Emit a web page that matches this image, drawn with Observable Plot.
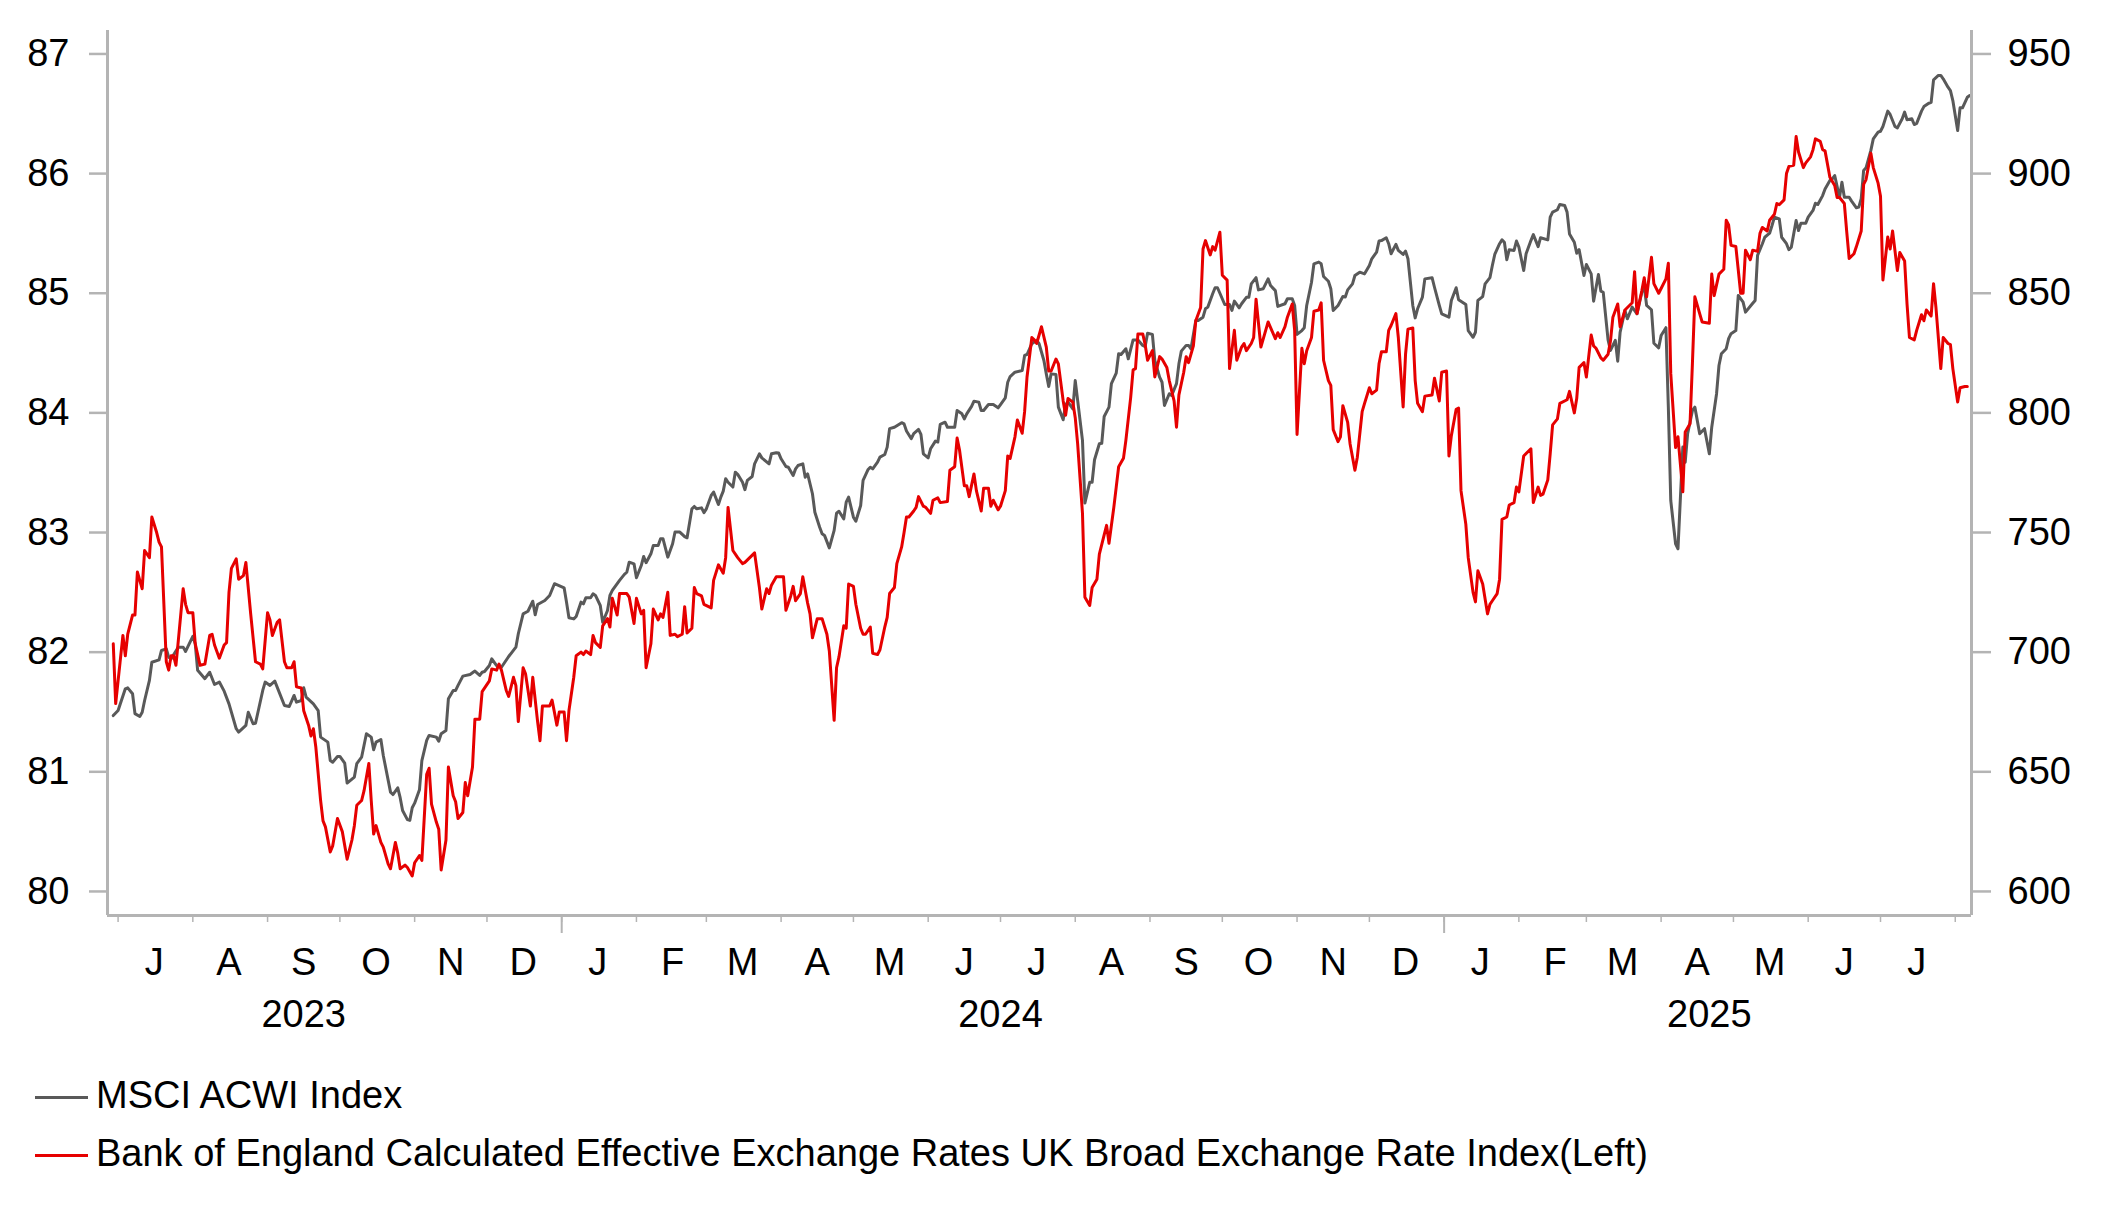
<!DOCTYPE html>
<html><head><meta charset="utf-8">
<script src="https://cdn.jsdelivr.net/npm/d3@7"></script>
<script src="https://cdn.jsdelivr.net/npm/@observablehq/plot@0.6"></script>
<style>
body{margin:0;background:#fff;font-family:"Liberation Sans",Arial,sans-serif;}
#legend{padding-top:26px;}
.row{height:58px;line-height:58px;font-size:38px;color:#000;white-space:nowrap;}
.sw{display:inline-block;width:53px;height:3px;margin-left:35px;margin-right:8px;vertical-align:middle;}
</style></head><body>
<div id="chart"></div>
<div id="legend"></div>
<script>
const msciLabel = "MSCI ACWI Index";
const boeLabel = "Bank of England Calculated Effective Exchange Rates UK Broad Exchange Rate Index(Left)";
const msciColor = "#595959";
const boeColor = "#e60000";
const leftTicks = [80, 81, 82, 83, 84, 85, 86, 87];
const rightTicks = [600, 650, 700, 750, 800, 850, 900, 950];
const yearLabels = [["2023-09-16", "2023"], ["2024-07-01", "2024"], ["2025-04-21", "2025"]];
const yearTicks = ["2024-01-01", "2025-01-01"];

const msci = [
["2023-06-29",673.5],["2023-07-01",675.6],["2023-07-04",684.7],["2023-07-05",685.1],["2023-07-07",682.6],["2023-07-08",674.3],["2023-07-10",673.1],["2023-07-11",674.9],["2023-07-12",679.8],["2023-07-14",688.2],["2023-07-15",695.8],["2023-07-18",696.8],["2023-07-19",700.7],["2023-07-21",701.4],["2023-07-22",697.9],["2023-07-23",697.2],["2023-07-26",702.1],["2023-07-28",702.1],["2023-07-29",700.3],["2023-08-01",706.6],["2023-08-02",703.5],["2023-08-03",692.4],["2023-08-06",688.9],["2023-08-08",691.6],["2023-08-10",686.5],["2023-08-12",687.5],["2023-08-14",683.7],["2023-08-16",678.4],["2023-08-19",668.0],["2023-08-20",666.6],["2023-08-23",669.4],["2023-08-24",674.9],["2023-08-26",670.1],["2023-08-27",670.3],["2023-08-30",684.0],["2023-08-31",687.5],
["2023-09-02",686.1],["2023-09-04",687.9],["2023-09-08",677.7],["2023-09-10",677.3],["2023-09-12",681.9],["2023-09-13",679.1],["2023-09-15",679.8],["2023-09-16",685.1],["2023-09-17",681.2],["2023-09-20",678.4],["2023-09-22",675.6],["2023-09-23",664.5],["2023-09-26",662.4],["2023-09-27",654.7],["2023-09-28",654.0],["2023-09-30",656.4],["2023-10-01",656.4],["2023-10-03",653.6],["2023-10-04",645.3],["2023-10-07",647.8],["2023-10-08",653.4],["2023-10-10",656.1],["2023-10-11",661.0],["2023-10-12",665.9],["2023-10-14",664.5],["2023-10-15",659.2],["2023-10-16",662.4],["2023-10-18",663.5],["2023-10-19",656.8],["2023-10-22",641.5],["2023-10-23",640.5],["2023-10-25",643.3],["2023-10-26",639.2],["2023-10-27",633.8],["2023-10-29",630.0],["2023-10-30",629.7],["2023-10-31",635.0],
["2023-11-01",636.9],["2023-11-03",642.5],["2023-11-04",654.7],["2023-11-06",663.1],["2023-11-07",665.2],["2023-11-10",664.5],["2023-11-11",662.8],["2023-11-12",665.9],["2023-11-14",667.3],["2023-11-15",680.5],["2023-11-17",684.0],["2023-11-18",684.0],["2023-11-19",686.1],["2023-11-21",690.0],["2023-11-24",690.7],["2023-11-26",692.1],["2023-11-28",690.3],["2023-11-29",691.6],["2023-11-30",691.9],["2023-12-02",694.4],["2023-12-03",697.2],["2023-12-05",694.4],["2023-12-07",693.7],["2023-12-10",698.2],["2023-12-13",702.1],["2023-12-14",707.7],["2023-12-16",716.0],["2023-12-18",717.1],["2023-12-20",721.3],["2023-12-21",715.6],["2023-12-22",719.9],["2023-12-25",721.6],["2023-12-27",723.7],["2023-12-29",728.6],
["2024-01-02",726.9],["2024-01-03",720.9],["2024-01-04",714.4],["2024-01-06",713.9],["2024-01-07",714.9],["2024-01-09",720.9],["2024-01-10",720.2],["2024-01-11",722.7],["2024-01-13",722.7],["2024-01-14",724.4],["2024-01-15",723.7],["2024-01-17",719.5],["2024-01-18",712.5],["2024-01-20",717.4],["2024-01-21",723.7],["2024-01-22",725.8],["2024-01-25",730.0],["2024-01-27",732.5],["2024-01-28",733.4],["2024-01-29",737.6],["2024-01-31",736.9],
["2024-02-01",731.1],["2024-02-03",736.2],["2024-02-04",740.0],["2024-02-05",737.4],["2024-02-07",741.1],["2024-02-08",744.6],["2024-02-10",744.6],["2024-02-11",747.4],["2024-02-12",747.4],["2024-02-14",739.7],["2024-02-16",745.3],["2024-02-17",750.2],["2024-02-19",750.2],["2024-02-21",748.3],["2024-02-22",747.8],["2024-02-24",759.9],["2024-02-25",760.9],["2024-02-26",759.9],["2024-02-28",760.3],["2024-02-29",758.3],
["2024-03-01",759.9],["2024-03-03",765.5],["2024-03-04",766.9],["2024-03-06",761.7],["2024-03-07",764.8],["2024-03-08",767.3],["2024-03-09",772.5],["2024-03-10",771.0],["2024-03-12",769.0],["2024-03-13",775.2],["2024-03-14",774.3],["2024-03-16",771.0],["2024-03-17",767.9],["2024-03-18",771.8],["2024-03-20",773.4],["2024-03-21",778.7],["2024-03-23",782.9],["2024-03-24",781.2],["2024-03-27",778.7],["2024-03-28",782.9],["2024-03-30",783.3],["2024-03-31",783.2],
["2024-04-01",780.8],["2024-04-03",777.6],["2024-04-04",777.3],["2024-04-06",773.8],["2024-04-07",776.6],["2024-04-08",778.0],["2024-04-10",778.7],["2024-04-11",773.1],["2024-04-12",774.5],["2024-04-14",766.2],["2024-04-15",758.5],["2024-04-17",752.2],["2024-04-18",749.5],["2024-04-19",748.8],["2024-04-21",743.6],["2024-04-23",750.9],["2024-04-24",758.1],["2024-04-25",758.9],["2024-04-27",755.7],["2024-04-28",762.7],["2024-04-29",764.8],
["2024-05-01",756.4],["2024-05-02",754.7],["2024-05-04",761.3],["2024-05-05",771.8],["2024-05-07",776.2],["2024-05-08",777.3],["2024-05-09",776.6],["2024-05-11",779.4],["2024-05-12",781.5],["2024-05-14",782.6],["2024-05-15",785.7],["2024-05-16",793.4],["2024-05-18",794.0],["2024-05-21",795.9],["2024-05-22",795.4],["2024-05-23",792.4],["2024-05-25",789.2],["2024-05-26",791.3],["2024-05-28",793.1],["2024-05-29",791.0],["2024-05-30",782.9],
["2024-06-01",781.2],["2024-06-02",785.0],["2024-06-04",788.2],["2024-06-05",787.8],["2024-06-06",795.2],["2024-06-08",796.1],["2024-06-09",794.0],["2024-06-12",794.0],["2024-06-13",801.0],["2024-06-15",799.6],["2024-06-16",797.5],["2024-06-17",799.6],["2024-06-19",802.7],["2024-06-20",804.9],["2024-06-22",804.5],["2024-06-23",801.0],["2024-06-24",801.0],["2024-06-26",803.5],["2024-06-28",803.5],["2024-06-30",802.1],
["2024-07-01",803.5],["2024-07-03",806.3],["2024-07-04",812.8],["2024-07-05",815.2],["2024-07-07",817.0],["2024-07-10",817.7],["2024-07-11",824.0],["2024-07-12",824.4],["2024-07-14",828.9],["2024-07-16",830.3],["2024-07-17",828.9],["2024-07-19",821.9],["2024-07-20",816.3],["2024-07-21",811.0],["2024-07-22",816.3],["2024-07-24",816.0],["2024-07-25",802.4],["2024-07-27",797.1],["2024-07-28",803.5],["2024-07-29",804.5],["2024-07-31",801.7],
["2024-08-01",813.5],["2024-08-02",805.2],["2024-08-04",788.5],["2024-08-05",762.3],["2024-08-07",771.0],["2024-08-08",771.0],["2024-08-09",780.4],["2024-08-11",787.1],["2024-08-12",787.3],["2024-08-13",798.5],["2024-08-15",802.4],["2024-08-16",812.2],["2024-08-18",816.6],["2024-08-19",824.7],["2024-08-20",824.4],["2024-08-22",826.8],["2024-08-23",822.6],["2024-08-25",830.5],["2024-08-27",830.5],["2024-08-29",828.2],["2024-08-30",827.7],["2024-08-31",833.3],
["2024-09-02",832.8],["2024-09-03",821.9],["2024-09-05",814.9],["2024-09-06",812.8],["2024-09-07",803.1],["2024-09-09",808.0],["2024-09-10",807.3],["2024-09-12",812.2],["2024-09-13",820.5],["2024-09-14",825.8],["2024-09-16",828.2],["2024-09-17",828.2],["2024-09-18",826.8],["2024-09-20",838.6],["2024-09-21",838.6],["2024-09-23",840.0],["2024-09-24",843.5],["2024-09-25",844.2],["2024-09-27",849.8],["2024-09-28",852.3],["2024-09-29",852.3],["2024-09-30",850.0],
["2024-10-02",845.3],["2024-10-04",845.3],["2024-10-05",842.8],["2024-10-06",846.7],["2024-10-08",843.9],["2024-10-09",845.6],["2024-10-11",848.3],["2024-10-12",848.3],["2024-10-13",853.9],["2024-10-15",856.5],["2024-10-16",851.4],["2024-10-18",851.9],["2024-10-20",856.0],["2024-10-21",853.2],["2024-10-23",851.1],["2024-10-24",844.5],["2024-10-27",845.6],["2024-10-28",847.7],["2024-10-30",847.7],["2024-10-31",844.9],
["2024-11-01",832.8],["2024-11-03",834.4],["2024-11-04",835.6],["2024-11-05",844.9],["2024-11-07",854.6],["2024-11-08",862.3],["2024-11-10",863.0],["2024-11-11",862.3],["2024-11-12",857.0],["2024-11-14",855.0],["2024-11-15",851.9],["2024-11-16",842.8],["2024-11-18",844.9],["2024-11-20",848.6],["2024-11-21",848.4],["2024-11-22",851.4],["2024-11-24",853.9],["2024-11-25",857.4],["2024-11-27",858.8],["2024-11-29",858.1],
["2024-12-01",861.6],["2024-12-02",864.4],["2024-12-04",867.2],["2024-12-05",871.8],["2024-12-06",872.0],["2024-12-08",873.2],["2024-12-09",870.7],["2024-12-10",866.5],["2024-12-12",870.4],["2024-12-13",867.9],["2024-12-15",866.2],["2024-12-16",867.6],["2024-12-17",864.4],["2024-12-19",844.9],["2024-12-20",839.7],["2024-12-21",843.5],["2024-12-23",848.4],["2024-12-24",856.0],["2024-12-27",856.5],["2024-12-28",852.5],["2024-12-30",844.9],["2024-12-31",841.4],
["2025-01-03",840.0],["2025-01-04",847.0],["2025-01-06",852.3],["2025-01-07",847.3],["2025-01-10",845.3],["2025-01-11",834.4],["2025-01-13",831.6],["2025-01-14",833.7],["2025-01-15",847.0],["2025-01-17",848.6],["2025-01-18",853.9],["2025-01-20",856.5],["2025-01-21",861.6],["2025-01-22",866.2],["2025-01-24",870.7],["2025-01-25",872.3],["2025-01-26",871.3],["2025-01-27",864.0],["2025-01-28",868.2],["2025-01-30",867.9],["2025-01-31",871.8],
["2025-02-01",869.3],["2025-02-03",859.5],["2025-02-04",866.5],["2025-02-06",872.0],["2025-02-07",874.5],["2025-02-09",869.5],["2025-02-10",873.2],["2025-02-13",872.3],["2025-02-14",881.8],["2025-02-15",883.9],["2025-02-17",884.9],["2025-02-18",887.1],["2025-02-20",886.7],["2025-02-21",883.9],["2025-02-22",874.8],["2025-02-24",871.3],["2025-02-25",866.7],["2025-02-26",868.2],["2025-02-28",857.4],
["2025-03-01",862.0],["2025-03-03",858.1],["2025-03-04",846.7],["2025-03-06",857.8],["2025-03-07",850.9],["2025-03-08",850.4],["2025-03-10",830.5],["2025-03-11",826.1],["2025-03-13",830.3],["2025-03-14",821.6],["2025-03-15",833.7],["2025-03-17",842.8],["2025-03-18",839.3],["2025-03-20",844.2],["2025-03-22",841.4],["2025-03-24",850.4],["2025-03-25",852.8],["2025-03-26",844.9],["2025-03-28",843.1],["2025-03-29",829.1],["2025-03-31",827.2],
["2025-04-01",832.3],["2025-04-03",835.6],["2025-04-04",802.4],["2025-04-05",763.4],["2025-04-07",745.3],["2025-04-08",743.2],["2025-04-10",785.7],["2025-04-11",779.4],["2025-04-12",791.3],["2025-04-14",801.0],["2025-04-15",802.4],["2025-04-17",791.3],["2025-04-19",793.4],["2025-04-21",782.9],["2025-04-22",794.0],["2025-04-24",808.0],["2025-04-25",819.8],["2025-04-26",824.7],["2025-04-28",826.8],["2025-04-29",831.0],["2025-04-30",833.1],
["2025-05-02",834.4],["2025-05-03",849.1],["2025-05-05",846.3],["2025-05-06",842.1],["2025-05-09",845.8],["2025-05-10",847.0],["2025-05-11",865.8],["2025-05-13",870.7],["2025-05-14",873.4],["2025-05-16",875.1],["2025-05-17",878.3],["2025-05-18",881.8],["2025-05-20",881.1],["2025-05-21",873.4],["2025-05-23",870.7],["2025-05-24",868.2],["2025-05-25",869.2],["2025-05-27",880.4],["2025-05-28",876.2],["2025-05-29",879.3],["2025-05-31",879.3],
["2025-06-01",881.8],["2025-06-03",884.6],["2025-06-04",887.6],["2025-06-05",887.1],["2025-06-07",890.8],["2025-06-08",893.6],["2025-06-10",897.1],["2025-06-11",897.8],["2025-06-12",899.2],["2025-06-14",890.1],["2025-06-15",896.4],["2025-06-16",890.1],["2025-06-18",890.1],["2025-06-19",888.5],["2025-06-21",885.7],["2025-06-22",886.0],["2025-06-23",889.5],["2025-06-24",901.3],["2025-06-25",902.4],["2025-06-27",909.7],["2025-06-28",914.5],["2025-06-30",917.3],
["2025-07-01",917.7],["2025-07-02",919.7],["2025-07-04",926.1],["2025-07-05",924.7],["2025-07-07",919.7],["2025-07-08",919.1],["2025-07-10",922.9],["2025-07-11",925.7],["2025-07-12",922.5],["2025-07-14",922.9],["2025-07-15",920.5],["2025-07-16",921.0],["2025-07-18",926.1],["2025-07-19",928.0],["2025-07-21",929.4],["2025-07-22",929.8],["2025-07-23",939.2],["2025-07-25",941.0],["2025-07-26",941.0],["2025-07-27",939.6],["2025-07-29",936.1],["2025-07-30",934.7],["2025-07-31",930.5],
["2025-08-02",918.0],["2025-08-03",927.5],["2025-08-04",927.5],["2025-08-06",931.9],["2025-08-07",932.6]
];

const boe = [
["2023-06-29",82.07],["2023-06-30",81.57],["2023-07-03",82.14],["2023-07-04",81.97],["2023-07-05",82.15],["2023-07-07",82.31],["2023-07-08",82.31],["2023-07-09",82.67],["2023-07-11",82.53],["2023-07-12",82.85],["2023-07-14",82.79],["2023-07-15",83.13],["2023-07-17",83.00],["2023-07-18",82.92],["2023-07-19",82.88],["2023-07-21",81.92],["2023-07-22",81.85],["2023-07-23",81.97],["2023-07-24",81.97],["2023-07-25",81.89],["2023-07-26",82.10],["2023-07-28",82.53],["2023-07-29",82.40],["2023-07-30",82.33],
["2023-08-01",82.33],["2023-08-02",82.07],["2023-08-04",81.89],["2023-08-06",81.90],["2023-08-08",82.14],["2023-08-09",82.15],["2023-08-10",82.06],["2023-08-12",81.95],["2023-08-14",82.06],["2023-08-15",82.08],["2023-08-16",82.50],["2023-08-17",82.70],["2023-08-19",82.78],["2023-08-20",82.61],["2023-08-22",82.64],["2023-08-23",82.75],["2023-08-25",82.32],["2023-08-27",81.92],["2023-08-29",81.90],["2023-08-30",81.86],
["2023-09-01",82.33],["2023-09-02",82.27],["2023-09-03",82.14],["2023-09-05",82.25],["2023-09-06",82.27],["2023-09-08",81.92],["2023-09-09",81.87],["2023-09-11",81.87],["2023-09-12",81.92],["2023-09-13",81.71],["2023-09-15",81.70],["2023-09-16",81.51],["2023-09-18",81.39],["2023-09-19",81.30],["2023-09-20",81.36],["2023-09-21",81.21],["2023-09-23",80.76],["2023-09-24",80.59],["2023-09-25",80.54],["2023-09-27",80.33],["2023-09-28",80.38],["2023-09-30",80.61],
["2023-10-02",80.50],["2023-10-04",80.27],["2023-10-06",80.43],["2023-10-07",80.55],["2023-10-08",80.72],["2023-10-10",80.76],["2023-10-11",80.84],["2023-10-13",81.07],["2023-10-14",80.76],["2023-10-15",80.48],["2023-10-16",80.55],["2023-10-18",80.41],["2023-10-19",80.37],["2023-10-21",80.23],["2023-10-22",80.19],["2023-10-24",80.41],["2023-10-25",80.32],["2023-10-26",80.19],["2023-10-28",80.22],["2023-10-29",80.20],["2023-10-31",80.13],
["2023-11-01",80.24],["2023-11-03",80.30],["2023-11-04",80.26],["2023-11-06",80.98],["2023-11-07",81.03],["2023-11-08",80.73],["2023-11-10",80.58],["2023-11-11",80.52],["2023-11-12",80.18],["2023-11-14",80.43],["2023-11-15",81.04],["2023-11-17",80.80],["2023-11-18",80.75],["2023-11-19",80.61],["2023-11-21",80.66],["2023-11-22",80.91],["2023-11-23",80.80],["2023-11-25",81.04],["2023-11-26",81.44],["2023-11-28",81.44],["2023-11-29",81.67],
["2023-12-02",81.76],["2023-12-03",81.86],["2023-12-05",81.85],["2023-12-06",81.90],["2023-12-07",81.85],["2023-12-09",81.68],["2023-12-10",81.63],["2023-12-12",81.79],["2023-12-13",81.72],["2023-12-14",81.42],["2023-12-16",81.87],["2023-12-17",81.82],["2023-12-19",81.55],["2023-12-20",81.79],["2023-12-22",81.42],["2023-12-23",81.26],["2023-12-24",81.55],["2023-12-27",81.55],["2023-12-28",81.60],["2023-12-30",81.39],["2023-12-31",81.50],
["2024-01-02",81.50],["2024-01-03",81.26],["2024-01-04",81.51],["2024-01-06",81.79],["2024-01-07",81.97],["2024-01-09",82.00],["2024-01-10",81.98],["2024-01-11",82.01],["2024-01-13",81.98],["2024-01-14",82.14],["2024-01-15",82.08],["2024-01-17",82.04],["2024-01-18",82.22],["2024-01-20",82.28],["2024-01-21",82.21],["2024-01-22",82.45],["2024-01-24",82.31],["2024-01-25",82.49],["2024-01-28",82.49],["2024-01-29",82.46],["2024-01-31",82.24],
["2024-02-01",82.45],["2024-02-03",82.32],["2024-02-04",82.35],["2024-02-05",81.87],["2024-02-07",82.07],["2024-02-08",82.36],["2024-02-10",82.27],["2024-02-11",82.32],["2024-02-12",82.29],["2024-02-14",82.50],["2024-02-15",82.14],["2024-02-17",82.15],["2024-02-18",82.13],["2024-02-20",82.15],["2024-02-21",82.38],["2024-02-22",82.16],["2024-02-24",82.20],["2024-02-25",82.54],["2024-02-26",82.49],["2024-02-28",82.47],["2024-02-29",82.40],
["2024-03-03",82.37],["2024-03-04",82.60],["2024-03-06",82.73],["2024-03-08",82.66],["2024-03-09",82.79],["2024-03-10",83.21],["2024-03-12",82.85],["2024-03-14",82.79],["2024-03-16",82.74],["2024-03-17",82.75],["2024-03-21",82.83],["2024-03-23",82.54],["2024-03-24",82.36],["2024-03-26",82.53],["2024-03-27",82.49],["2024-03-28",82.56],["2024-03-30",82.63],
["2024-04-02",82.63],["2024-04-03",82.35],["2024-04-05",82.47],["2024-04-06",82.55],["2024-04-07",82.43],["2024-04-09",82.49],["2024-04-10",82.63],["2024-04-12",82.41],["2024-04-13",82.32],["2024-04-14",82.12],["2024-04-16",82.28],["2024-04-18",82.28],["2024-04-20",82.15],["2024-04-21",82.01],["2024-04-23",81.43],["2024-04-24",81.87],["2024-04-25",81.96],["2024-04-27",82.22],["2024-04-28",82.20],["2024-04-29",82.57],
["2024-05-01",82.55],["2024-05-02",82.40],["2024-05-04",82.20],["2024-05-05",82.15],["2024-05-06",82.15],["2024-05-08",82.21],["2024-05-09",81.99],["2024-05-11",81.98],["2024-05-12",82.02],["2024-05-14",82.21],["2024-05-15",82.29],["2024-05-16",82.49],["2024-05-18",82.54],["2024-05-19",82.74],["2024-05-21",82.88],["2024-05-22",83.00],["2024-05-23",83.13],["2024-05-24",83.13],["2024-05-26",83.18],["2024-05-27",83.21],["2024-05-28",83.30],["2024-05-30",83.22],["2024-05-31",83.21],
["2024-06-02",83.16],["2024-06-03",83.27],["2024-06-05",83.29],["2024-06-06",83.25],["2024-06-09",83.26],["2024-06-10",83.52],["2024-06-12",83.55],["2024-06-13",83.79],["2024-06-14",83.69],["2024-06-16",83.39],["2024-06-17",83.39],["2024-06-18",83.30],["2024-06-20",83.49],["2024-06-21",83.35],["2024-06-23",83.18],["2024-06-24",83.37],["2024-06-26",83.37],["2024-06-27",83.22],["2024-06-28",83.27],["2024-06-30",83.19],
["2024-07-01",83.22],["2024-07-03",83.35],["2024-07-04",83.64],["2024-07-05",83.62],["2024-07-07",83.80],["2024-07-08",83.94],["2024-07-10",83.83],["2024-07-11",84.01],["2024-07-12",84.30],["2024-07-14",84.63],["2024-07-15",84.61],["2024-07-16",84.58],["2024-07-18",84.72],["2024-07-20",84.55],["2024-07-21",84.35],["2024-07-22",84.35],["2024-07-24",84.45],["2024-07-25",84.41],["2024-07-27",84.10],["2024-07-28",83.98],["2024-07-29",84.12],["2024-07-31",84.09],
["2024-08-01",83.96],["2024-08-02",83.74],["2024-08-04",83.16],["2024-08-05",82.46],["2024-08-07",82.39],["2024-08-08",82.54],["2024-08-10",82.61],["2024-08-11",82.82],["2024-08-13",82.98],["2024-08-14",83.06],["2024-08-15",82.91],["2024-08-17",83.21],["2024-08-18",83.38],["2024-08-19",83.55],["2024-08-21",83.62],["2024-08-22",83.77],["2024-08-24",84.13],["2024-08-25",84.36],["2024-08-26",84.37],["2024-08-27",84.66],["2024-08-29",84.66],["2024-08-30",84.57],["2024-08-31",84.44],
["2024-09-02",84.52],["2024-09-03",84.30],["2024-09-05",84.47],["2024-09-06",84.45],["2024-09-08",84.38],["2024-09-09",84.27],["2024-09-11",84.10],["2024-09-12",83.88],["2024-09-13",84.15],["2024-09-15",84.34],["2024-09-16",84.47],["2024-09-17",84.42],["2024-09-19",84.56],["2024-09-20",84.77],["2024-09-22",84.88],["2024-09-23",85.37],["2024-09-24",85.44],["2024-09-26",85.32],["2024-09-27",85.39],["2024-09-28",85.36],["2024-09-30",85.51],
["2024-10-01",85.15],["2024-10-03",85.11],["2024-10-04",84.37],["2024-10-06",84.69],["2024-10-07",84.44],["2024-10-09",84.55],["2024-10-10",84.58],["2024-10-11",84.52],["2024-10-13",84.58],["2024-10-14",84.63],["2024-10-15",84.95],["2024-10-17",84.55],["2024-10-20",84.76],["2024-10-23",84.62],["2024-10-24",84.67],["2024-10-25",84.63],["2024-10-27",84.72],["2024-10-28",84.80],["2024-10-30",84.91],["2024-10-31",84.69],
["2024-11-01",83.82],["2024-11-03",84.54],["2024-11-04",84.41],["2024-11-05",84.52],["2024-11-07",84.63],["2024-11-08",84.85],["2024-11-10",84.86],["2024-11-11",84.92],["2024-11-12",84.44],["2024-11-14",84.27],["2024-11-15",84.23],["2024-11-16",83.86],["2024-11-18",83.76],["2024-11-19",83.80],["2024-11-20",84.06],["2024-11-22",83.92],["2024-11-23",83.74],["2024-11-25",83.52],["2024-11-26",83.63],["2024-11-28",84.01],["2024-11-29",84.08],
["2024-12-01",84.21],["2024-12-02",84.16],["2024-12-04",84.19],["2024-12-05",84.41],["2024-12-06",84.51],["2024-12-08",84.51],["2024-12-09",84.69],["2024-12-10",84.73],["2024-12-12",84.83],["2024-12-13",84.63],["2024-12-15",84.05],["2024-12-16",84.49],["2024-12-17",84.70],["2024-12-19",84.71],["2024-12-20",84.27],["2024-12-21",84.08],["2024-12-23",84.01],["2024-12-24",84.14],["2024-12-27",84.15],["2024-12-28",84.29],["2024-12-30",84.10],["2024-12-31",84.34],
["2025-01-02",84.35],["2025-01-03",83.64],["2025-01-04",83.81],["2025-01-06",84.03],["2025-01-07",84.04],["2025-01-08",83.35],["2025-01-10",83.07],["2025-01-11",82.79],["2025-01-13",82.50],["2025-01-14",82.42],["2025-01-15",82.68],["2025-01-17",82.57],["2025-01-19",82.32],["2025-01-20",82.40],["2025-01-21",82.43],["2025-01-23",82.49],["2025-01-24",82.61],["2025-01-25",83.11],["2025-01-27",83.13],["2025-01-28",83.23],["2025-01-30",83.25],["2025-01-31",83.38],
["2025-02-01",83.34],["2025-02-03",83.64],["2025-02-06",83.70],["2025-02-07",83.25],["2025-02-09",83.38],["2025-02-10",83.31],["2025-02-11",83.32],["2025-02-13",83.44],["2025-02-14",83.66],["2025-02-15",83.90],["2025-02-17",83.95],["2025-02-18",84.08],["2025-02-21",84.11],["2025-02-22",84.18],["2025-02-24",84.00],["2025-02-25",84.12],["2025-02-26",84.38],["2025-02-28",84.42],
["2025-03-01",84.30],["2025-03-03",84.65],["2025-03-04",84.56],["2025-03-05",84.54],["2025-03-07",84.46],["2025-03-08",84.44],["2025-03-10",84.49],["2025-03-11",84.60],["2025-03-12",84.80],["2025-03-14",84.91],["2025-03-15",84.72],["2025-03-17",84.86],["2025-03-20",84.92],["2025-03-21",85.18],["2025-03-22",84.83],["2025-03-24",85.02],["2025-03-25",85.13],["2025-03-26",84.97],["2025-03-28",85.30],["2025-03-29",85.08],["2025-03-31",85.00],
["2025-04-01",85.04],["2025-04-03",85.12],["2025-04-04",85.25],["2025-04-05",84.33],["2025-04-07",83.71],["2025-04-08",83.80],["2025-04-10",83.34],["2025-04-11",83.84],["2025-04-13",83.91],["2025-04-14",84.42],["2025-04-15",84.97],["2025-04-17",84.83],["2025-04-18",84.76],["2025-04-21",84.75],["2025-04-22",85.16],["2025-04-23",84.98],["2025-04-25",85.16],["2025-04-27",85.20],["2025-04-28",85.61],["2025-04-29",85.57],["2025-04-30",85.40],
["2025-05-02",85.39],["2025-05-04",85.00],["2025-05-05",85.00],["2025-05-06",85.36],["2025-05-08",85.28],["2025-05-09",85.36],["2025-05-11",85.35],["2025-05-12",85.50],["2025-05-13",85.55],["2025-05-15",85.52],["2025-05-16",85.61],["2025-05-18",85.66],["2025-05-19",85.75],["2025-05-20",85.74],["2025-05-22",85.78],["2025-05-23",86.00],["2025-05-24",86.06],["2025-05-26",86.07],["2025-05-27",86.31],["2025-05-28",86.18],["2025-05-30",86.05],["2025-05-31",86.09],
["2025-06-02",86.14],["2025-06-03",86.20],["2025-06-04",86.29],["2025-06-06",86.27],["2025-06-07",86.20],["2025-06-08",86.19],["2025-06-10",85.97],["2025-06-12",85.90],["2025-06-13",85.80],["2025-06-14",85.80],["2025-06-16",85.75],["2025-06-17",85.51],["2025-06-18",85.29],["2025-06-20",85.33],["2025-06-21",85.39],["2025-06-23",85.52],["2025-06-24",85.91],["2025-06-25",85.95],["2025-06-27",86.17],["2025-06-28",86.05],["2025-06-30",85.92],
["2025-07-01",85.81],["2025-07-02",85.11],["2025-07-04",85.47],["2025-07-05",85.37],["2025-07-06",85.52],["2025-07-08",85.19],["2025-07-09",85.34],["2025-07-11",85.27],["2025-07-12",84.91],["2025-07-13",84.63],["2025-07-15",84.61],["2025-07-16",84.69],["2025-07-18",84.82],["2025-07-19",84.77],["2025-07-20",84.86],["2025-07-22",84.81],["2025-07-23",85.08],["2025-07-24",84.88],["2025-07-26",84.37],["2025-07-27",84.63],["2025-07-29",84.58],["2025-07-30",84.57],["2025-07-31",84.37],
["2025-08-02",84.09],["2025-08-03",84.21],["2025-08-05",84.22],["2025-08-06",84.22]
];

// scale settings
const xDomain = [new Date(Date.UTC(2023, 5, 26, 14, 38)), new Date(Date.UTC(2025, 7, 7, 17, 45))];
const yDomain = [79.799, 87.196];
const toLeft = (r) => 80 + (r - 600) / 50;
const toRight = (l) => Math.round(600 + (l - 80) * 50);
const parse = (s) => new Date(s + "T00:00:00Z");

const monthStarts = d3.utcMonth.range(new Date(Date.UTC(2023, 6, 1)), new Date(Date.UTC(2025, 7, 2)));
const monthMids = d3.utcMonth.range(new Date(Date.UTC(2023, 6, 1)), new Date(Date.UTC(2025, 6, 2))).map(m => d3.utcDay.offset(m, 15));
const monthLetter = (d) => d3.utcFormat("%b")(d).charAt(0);

const axisGray = "#b4b4b4";
const font = "'Liberation Sans', Arial, sans-serif";

const chart = Plot.plot({
  width: 2106,
  height: 1040,
  marginLeft: 107,
  marginRight: 135,
  marginTop: 30,
  marginBottom: 125,
  style: {fontFamily: font, fontSize: "38px", color: "#000", background: "#fff", overflow: "visible"},
  x: {type: "utc", domain: xDomain, axis: null},
  y: {domain: yDomain, axis: null},
  marks: [
    Plot.line(msci, {x: d => parse(d[0]), y: d => toLeft(d[1]), stroke: msciColor, strokeWidth: 3, strokeLinejoin: "round"}),
    Plot.line(boe, {x: d => parse(d[0]), y: d => d[1], stroke: boeColor, strokeWidth: 3, strokeLinejoin: "round"}),
    Plot.ruleX([xDomain[0], xDomain[1]], {stroke: axisGray, strokeWidth: 3}),
    Plot.ruleY([yDomain[0]], {stroke: axisGray, strokeWidth: 3}),
    Plot.axisY(leftTicks, {anchor: "left", tickSize: 18, tickPadding: 20, stroke: axisGray, strokeWidth: 2.5, fill: "#000", fontSize: 38, tickFormat: d => String(d)}),
    Plot.axisY(rightTicks.map(toLeft), {anchor: "right", tickSize: 19, tickPadding: 17, stroke: axisGray, strokeWidth: 2.5, fill: "#000", fontSize: 38, tickFormat: d => String(toRight(d))}),
    Plot.axisX(monthStarts, {anchor: "bottom", tickSize: 7, stroke: axisGray, strokeWidth: 1.5, tickFormat: () => ""}),
    Plot.axisX(yearTicks.map(parse), {anchor: "bottom", tickSize: 18, stroke: axisGray, strokeWidth: 2, tickFormat: () => ""}),
    Plot.axisX(monthMids, {anchor: "bottom", tickSize: 0, tickPadding: 33, fill: "#000", fontSize: 38, tickFormat: monthLetter}),
    Plot.axisX(yearLabels.map(d => parse(d[0])), {anchor: "bottom", tickSize: 0, tickPadding: 85, fill: "#000", fontSize: 38, tickFormat: (d, i) => yearLabels[i][1]})
  ]
});
document.getElementById("chart").appendChild(chart);

const legend = document.getElementById("legend");
[[msciLabel, msciColor], [boeLabel, boeColor]].forEach(([label, color]) => {
  const row = document.createElement("div");
  row.className = "row";
  const sw = document.createElement("span");
  sw.className = "sw";
  sw.style.background = color;
  row.appendChild(sw);
  row.appendChild(document.createTextNode(label));
  legend.appendChild(row);
});
</script>
</body></html>
